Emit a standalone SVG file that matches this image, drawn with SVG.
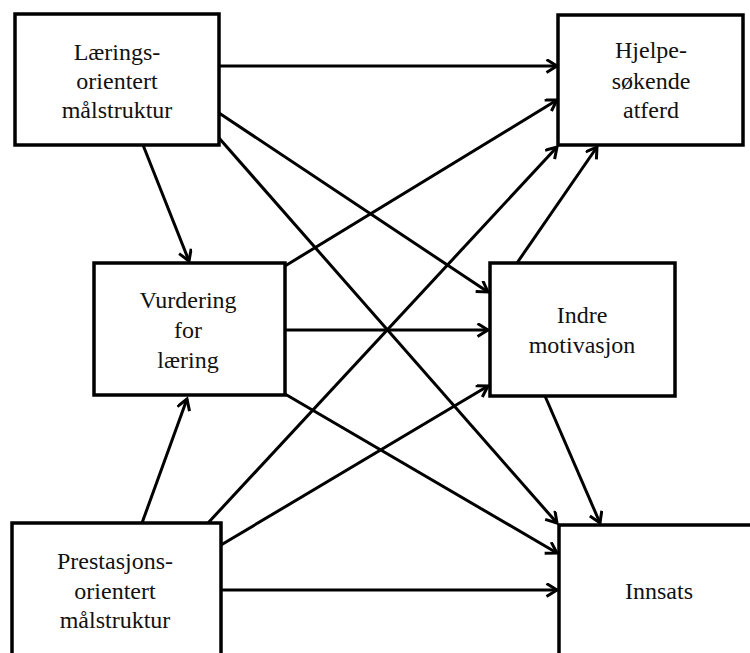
<svg xmlns="http://www.w3.org/2000/svg" width="750" height="653" viewBox="0 0 750 653">
<style>
.box{fill:#fff;stroke:#000;stroke-width:3.5}
.lbl{font-family:"Liberation Serif","Times New Roman",serif;font-size:24px;fill:#111;text-anchor:middle}
.con line{stroke:#000;stroke-width:3;marker-end:url(#arr)}
</style>
<defs>
<marker id="arr" markerUnits="userSpaceOnUse" markerWidth="16" markerHeight="16" refX="12" refY="7" orient="auto">
<path d="M1.5,0.5 L12,7 L1.5,13.5" fill="none" stroke="#000" stroke-width="3"/>
</marker>
</defs>
<rect width="750" height="653" fill="#fff"/>
<g id="connectors" class="con">
<line x1="219" y1="66" x2="557" y2="66"/>
<line x1="219" y1="113" x2="488" y2="292"/>
<line x1="219" y1="138" x2="557" y2="523"/>
<line x1="143" y1="145" x2="189" y2="261"/>
<line x1="285" y1="266" x2="557" y2="100"/>
<line x1="285" y1="330" x2="488" y2="330"/>
<line x1="285" y1="394" x2="557" y2="553"/>
<line x1="142" y1="523" x2="187" y2="399"/>
<line x1="208" y1="523" x2="557" y2="147"/>
<line x1="221" y1="545" x2="488" y2="386"/>
<line x1="221" y1="590" x2="557" y2="590"/>
<line x1="517" y1="263" x2="597" y2="147"/>
<line x1="545" y1="396" x2="600" y2="523"/>
</g>
<g id="laerings">
<rect class="box" x="15" y="14" width="204" height="131"/>
<text class="lbl" x="117" y="60">Lærings-</text>
<text class="lbl" x="117" y="89">orientert</text>
<text class="lbl" x="117" y="118">målstruktur</text>
</g>
<g id="hjelpe">
<rect class="box" x="558" y="15" width="185" height="130"/>
<text class="lbl" x="651" y="58">Hjelpe-</text>
<text class="lbl" x="651" y="89">søkende</text>
<text class="lbl" x="651" y="118">atferd</text>
</g>
<g id="vurdering">
<rect class="box" x="94" y="263" width="191" height="132"/>
<text class="lbl" x="188" y="308">Vurdering</text>
<text class="lbl" x="188" y="338">for</text>
<text class="lbl" x="188" y="368">læring</text>
</g>
<g id="indre">
<rect class="box" x="490" y="263" width="185" height="133"/>
<text class="lbl" x="582" y="323">Indre</text>
<text class="lbl" x="582" y="353">motivasjon</text>
</g>
<g id="prestasjons">
<rect class="box" x="12" y="523" width="209" height="150"/>
<text class="lbl" x="115" y="569">Prestasjons-</text>
<text class="lbl" x="115" y="599">orientert</text>
<text class="lbl" x="115" y="628">målstruktur</text>
</g>
<g id="innsats">
<rect class="box" x="559" y="525" width="200" height="150"/>
<text class="lbl" x="659" y="599">Innsats</text>
</g>
</svg>
